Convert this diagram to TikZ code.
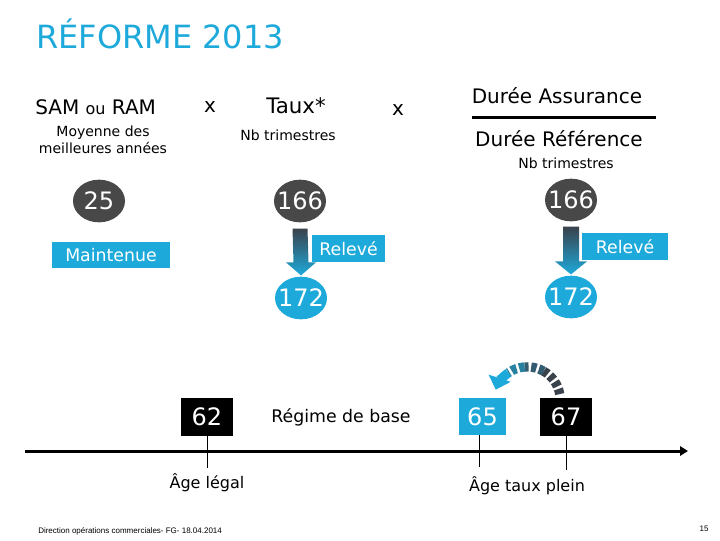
\documentclass[tikz,border=0pt]{standalone}
\usepackage{fontspec}
\setmainfont{DejaVu Sans}
\newfontfamily\footfont{Liberation Sans}
\usetikzlibrary{calc,arrows.meta,shapes.geometric}
\definecolor{refcyan}{RGB}{29,170,219}
\definecolor{refgray}{RGB}{72,72,72}
\definecolor{refslate}{RGB}{58,66,76}
\newcommand{\numtxt}[1]{\makebox[0pt]{#1}}

\begin{document}
\begin{tikzpicture}[x=0.75pt,y=0.75pt,yscale=-1,xscale=1,
  num/.style={ellipse,fill=refgray,text=white,minimum width=39pt,minimum height=32pt,inner sep=0pt,font=\fontsize{18}{18}\selectfont},
  numcyan/.style={num,fill=refcyan},
  tagbox/.style={rectangle,fill=refcyan,text=white,minimum height=20pt,inner sep=0pt,font=\fontsize{13}{13}\selectfont},
  agebox/.style={rectangle,fill=black,text=white,minimum width=39pt,minimum height=28pt,inner sep=0pt,font=\fontsize{18}{18}\selectfont},
  hopdash/.style={line width=7pt,dash pattern=on 4pt off 2pt}]
\useasboundingbox (0,0) rectangle (720,540);

% Title
\node (title) [anchor=base west,inner sep=0pt,text=refcyan,font=\fontsize{24}{24}\selectfont] at (36,48) {RÉFORME 2013};

% Formula
\node (sam) [anchor=base west,inner sep=0pt,font=\fontsize{15}{15}\selectfont] at (35,114) {SAM {\fontsize{12}{12}\selectfont ou} RAM};
\node (times1) [anchor=base,inner sep=0pt,font=\fontsize{15}{15}\selectfont] at (210,112) {x};
\node (taux) [anchor=base,inner sep=0pt,font=\fontsize{16}{16}\selectfont] at (296,113) {Taux*};
\node (times2) [anchor=base,inner sep=0pt,font=\fontsize{15}{15}\selectfont] at (398,115) {x};
\node (dassur) [anchor=base,inner sep=0pt,font=\fontsize{15}{15}\selectfont] at (557,103) {Durée Assurance};
\node (dref) [anchor=base,inner sep=0pt,font=\fontsize{15}{15}\selectfont] at (559,146) {Durée Référence};
\coordinate (fracL) at (472,117);
\coordinate (fracR) at (656,117);
\draw [line width=2.25pt] (fracL) -- (fracR);

% Sub labels
\node (moy) [align=center,inner sep=0pt,font=\fontsize{10.5}{12.75}\selectfont] at (103,139.5) {Moyenne des\\meilleures années};
\node (nbA) [inner sep=0pt,font=\fontsize{10.5}{10.5}\selectfont] at (288,135) {Nb trimestres};
\node (nbB) [inner sep=0pt,font=\fontsize{10.5}{10.5}\selectfont] at (566,163) {Nb trimestres};

% Values
\node (e25) [num] at (99,201) {\numtxt{25}};
\node (eA166) [num] at (300,201) {\numtxt{166}};
\node (eB166) [num] at (571,200) {\numtxt{166}};
\node (eA172) [numcyan] at (301,298) {\numtxt{172}};
\node (eB172) [numcyan] at (571,297) {\numtxt{172}};

\node (maint) [tagbox,minimum width=88.5pt] at (111,255) {Maintenue};
\node (relA) [tagbox,minimum width=55pt] at (348.5,248.5) {Relevé};
\node (relB) [tagbox,minimum width=64.5pt] at (625,246.5) {Relevé};

% Block arrows
\shade [top color=refslate,bottom color=refcyan]
  ($(eA166.south)+(-7.5,6)$) -- ($(eA166.south)+(7.5,6)$) -- ($(eA172.north)+(7.5,-14)$) -- ($(eA172.north)+(15,-14)$)
  -- ($(eA172.north)+(0,-1)$) -- ($(eA172.north)+(-15,-14)$) -- ($(eA172.north)+(-7.5,-14)$) -- cycle;
\shade [top color=refslate,bottom color=refcyan]
  ($(eB166.south)+(-8,5)$) -- ($(eB166.south)+(8,5)$) -- ($(eB172.north)+(8,-14)$) -- ($(eB172.north)+(16,-14)$)
  -- ($(eB172.north)+(0,-1)$) -- ($(eB172.north)+(-16,-14)$) -- ($(eB172.north)+(-8,-14)$) -- cycle;

% Ages
\node (b62) [agebox] at (207,417) {62};
\node (regime) [inner sep=0pt,font=\fontsize{13}{13}\selectfont] at (341,417) {Régime de base};
\node (b65) [agebox,fill=refcyan,minimum width=35pt] at (482.5,416.5) {65};
\node (b67) [agebox] at (566,417) {67};

% Axis
\coordinate (axisL) at (25,451);
\coordinate (axisR) at (688,451);
\draw [line width=2.25pt,-{Triangle[length=6pt,width=7pt]}] (axisL) -- (axisR);
\draw [line width=0.75pt] (b62.south) -- ++(0,32);
\draw [line width=0.75pt] ($(b65.south)+(-3,0)$) -- ++(0,32);
\draw [line width=0.75pt] (b67.south) -- ++(0,34);
\node (legal) [inner sep=0pt,font=\fontsize{12}{12}\selectfont] at (207,483) {Âge légal};
\node (plein) [inner sep=0pt,font=\fontsize{12}{12}\selectfont] at (527,486) {Âge taux plein};

% Curved arrow 67 -> 65
\coordinate (hop) at ($($(b65.north)!0.5!(b67.north)$)+(3,2)$);
\draw [hopdash,refslate] ($(hop)+(-10:33)$) arc [start angle=-10,end angle=-60,radius=33];
\draw [hopdash,refslate!75!refcyan] ($(hop)+(-60:33)$) arc [start angle=-60,end angle=-95,radius=33];
\draw [hopdash,refslate!40!refcyan] ($(hop)+(-95:33)$) arc [start angle=-95,end angle=-125,radius=33];
\draw [line width=7pt,refcyan,-{Triangle[length=9pt,width=17pt]}] ($(hop)+(-125:33)$) arc [start angle=-125,end angle=-162,radius=33];

% Footer
\node (foot) [anchor=west,inner sep=0pt,font=\footfont\fontsize{6}{6}\selectfont] at (38,531) {Direction opérations commerciales- FG- 18.04.2014};
\node (page) [inner sep=0pt,font=\footfont\fontsize{6}{6}\selectfont] at (704,529) {15};

\end{tikzpicture}
\end{document}
